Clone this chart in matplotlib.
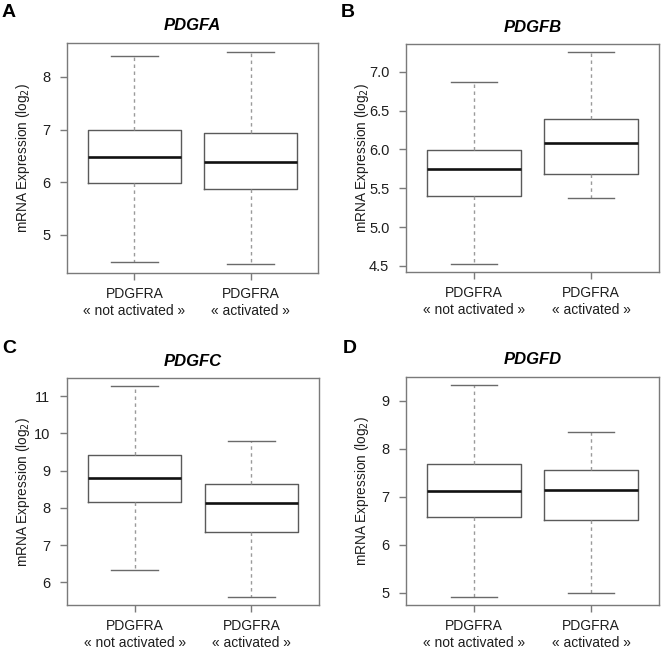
import matplotlib
matplotlib.use("Agg")
import matplotlib.pyplot as plt

plt.rcParams["font.family"] = ["Liberation Sans", "DejaVu Sans"]

genes = ["PDGFA", "PDGFB", "PDGFC", "PDGFD"]
panel_letters = ["A", "B", "C", "D"]
groups = ["PDGFRA\n\u00ab not activated \u00bb", "PDGFRA\n\u00ab activated \u00bb"]

# per gene: [not activated, activated]
whislo = [[4.48, 4.44], [4.53, 5.375], [6.33, 5.62], [4.92, 5.00]]
q1 = [[5.98, 5.87], [5.40, 5.68], [8.17, 7.34], [6.57, 6.52]]
med = [[6.48, 6.38], [5.75, 6.085], [8.81, 8.13], [7.11, 7.15]]
q3 = [[6.99, 6.94], [5.99, 6.39], [9.43, 8.64], [7.68, 7.56]]
whishi = [[8.39, 8.48], [6.87, 7.25], [11.26, 9.79], [9.32, 8.35]]

yticks = [[5, 6, 7, 8], [4.5, 5.0, 5.5, 6.0, 6.5, 7.0], [6, 7, 8, 9, 10, 11], [5, 6, 7, 8, 9]]
ytick_fmt = ["{:.0f}", "{:.1f}", "{:.0f}", "{:.0f}"]

W, H = 661, 650
fig = plt.figure(figsize=(W / 100, H / 100), dpi=100)

# axes boxes in pixels: left, top, right, bottom
boxes_px = [(67, 43, 318, 273), (406, 44, 659, 272), (67, 378, 319, 605), (406, 377, 659, 605)]
letter_px = [(2, 4), (341, 4), (2, 340), (343, 340)]

FRAME = "#7a7a7a"
TXT = "#1e1e1e"
for i, gene in enumerate(genes):
    l, t, r, b = boxes_px[i]
    ax = fig.add_axes([l / W, 1 - b / H, (r - l) / W, (b - t) / H])
    stats = []
    for j in range(2):
        stats.append(dict(whislo=whislo[i][j], q1=q1[i][j], med=med[i][j],
                          q3=q3[i][j], whishi=whishi[i][j], fliers=[]))
    ax.bxp(stats, positions=[1, 2], widths=0.8, showfliers=False,
           boxprops=dict(color="#5a5a5a", linewidth=1.0),
           medianprops=dict(color="#111111", linewidth=1.9, solid_capstyle="butt"),
           whiskerprops=dict(color="#9a9a9a", linewidth=1.0, linestyle=(0, (2.5, 2.5))),
           capprops=dict(color="#6a6a6a", linewidth=1.0),
           capwidths=0.4)
    lo = min(whislo[i])
    hi = max(whishi[i])
    pad = (hi - lo) * 0.04
    ax.set_ylim(lo - pad, hi + pad)
    ax.set_xlim(0.42, 2.58)
    ax.set_yticks(yticks[i])
    ax.set_yticklabels([ytick_fmt[i].format(v) for v in yticks[i]], fontsize=10.5, color=TXT)
    ax.set_xticks([1, 2])
    ax.set_xticklabels(groups, fontsize=10, color=TXT, linespacing=1.25)
    ax.tick_params(axis="y", length=5, width=1.0, color=FRAME, pad=7)
    ax.tick_params(axis="x", length=5, width=1.0, color=FRAME, pad=5)
    for s in ax.spines.values():
        s.set_color(FRAME)
        s.set_linewidth(1.0)
    ax.set_ylabel("mRNA Expression (log$_2$)", fontsize=9.8, color=TXT)
    # fixed label line, like R's mtext, independent of tick label width
    ax.yaxis.set_label_coords(-35 / (r - l), 0.5)
    ax.set_title(gene, fontsize=12, fontweight="bold", fontstyle="italic", pad=9)
    lx, ly = letter_px[i]
    fig.text(lx / W, 1 - ly / H, panel_letters[i], fontsize=14, fontweight="bold",
             ha="left", va="top")

fig.savefig("out.png", dpi=100)
